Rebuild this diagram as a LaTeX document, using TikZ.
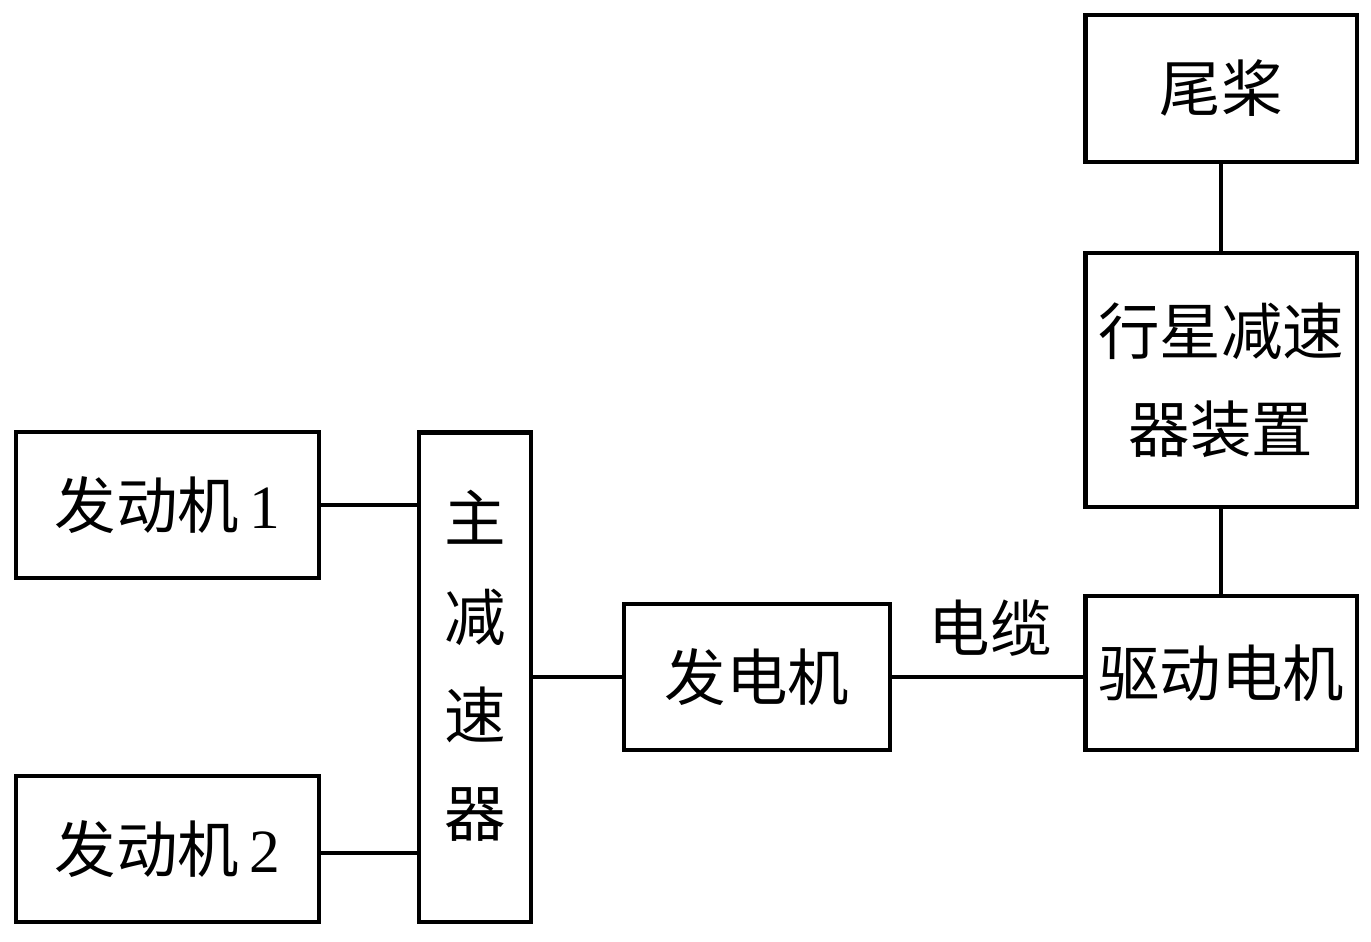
\documentclass[tikz,border=0pt]{standalone}
\usepackage{fontspec}
\newfontfamily\cjk{Noto Sans CJK SC}
\newfontfamily\digit{Liberation Serif}
\usepackage{tikz}
\usetikzlibrary{calc}

\begin{document}
\begin{tikzpicture}[x=0.02cm,y=-0.02cm,
  blk/.style={draw=black,line width=2.8pt,rectangle,inner sep=0pt,align=center,
              font=\cjk\fontsize{35}{56}\selectfont},
  lnk/.style={draw=black,line width=2.7pt},
  lbl/.style={inner sep=0pt,font=\cjk\fontsize{35}{56}\selectfont}]

  \fill[white] (0,0) rectangle (1371,941);

  % engines and main gearbox
  \node[blk,minimum width=6.06cm,minimum height=2.92cm] (eng1) at (167.5,505) {发动机\,{\digit 1}};
  \node[blk,minimum width=6.06cm,minimum height=2.92cm] (eng2) at (167.5,849) {发动机\,{\digit 2}};
  \node[blk,minimum width=2.24cm,minimum height=9.8cm] (gbox) at (475,677) {};
  \node[lbl,align=center] (gtxt) at (475,666) {主\\减\\速\\器};

  % generator, cable, drive motor
  \node[blk,minimum width=5.32cm,minimum height=2.92cm] (gen) at (757,677) {发电机};
  \node[blk,minimum width=5.44cm,minimum height=3.08cm] (motor) at (1221,673) {驱动电机};
  \node[lbl] (cable) at (990,628) {电缆};

  % planetary reducer and tail rotor
  \node[blk,minimum width=5.44cm,minimum height=5.08cm] (planet) at (1221,380) {行星减速\\器装置};
  \node[blk,minimum width=5.44cm,minimum height=2.94cm] (tail) at (1221,88.5) {尾桨};

  \draw[lnk] (eng1.east) -- (eng1.east -| gbox.west);
  \draw[lnk] ($(eng2.east)+(0,4)$) -- ($(eng2.east -| gbox.west)+(0,4)$);
  \draw[lnk] (gbox.east) -- (gen.west);
  \draw[lnk] (gen.east) -- (gen.east -| motor.west);
  \draw[lnk] (tail.south) -- (planet.north);
  \draw[lnk] (planet.south) -- (motor.north);
\end{tikzpicture}
\end{document}
